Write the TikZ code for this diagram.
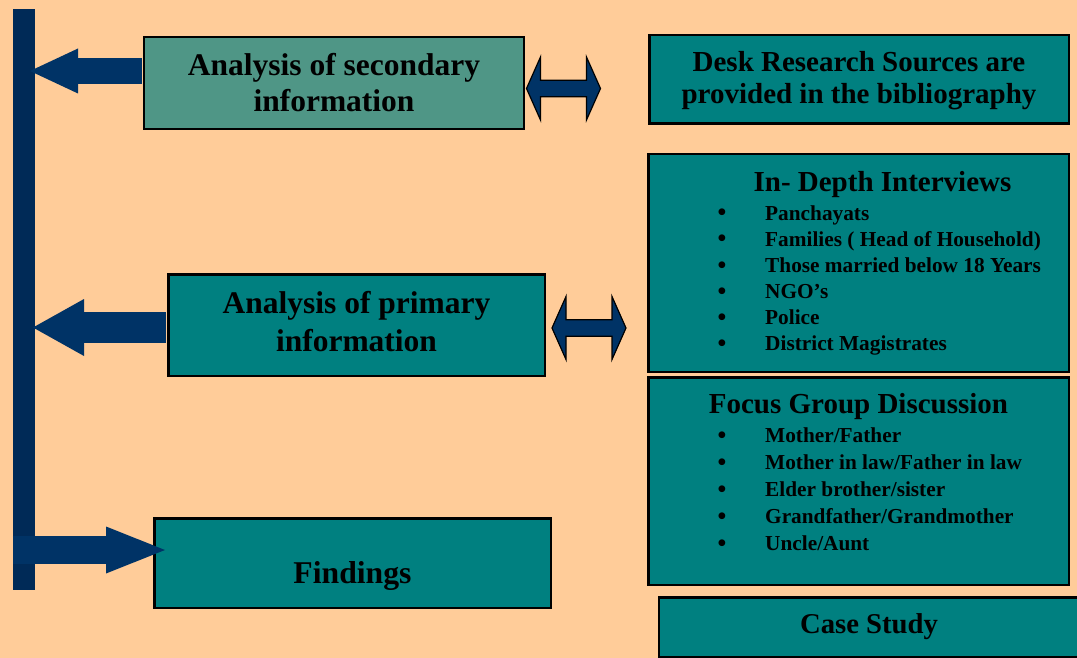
\documentclass[tikz,border=0pt]{standalone}
\usepackage{fontspec}
\setmainfont{Liberation Serif}
\usepackage{tikz}
\usetikzlibrary{arrows.meta}

\definecolor{peach}{HTML}{FFCC99}
\definecolor{tealbox}{HTML}{008080}
\definecolor{seabox}{HTML}{4F9686}
\definecolor{navy}{HTML}{003366}
\definecolor{barblue}{HTML}{002A57}

\def\headf{\fontsize{31.5}{36}\selectfont\bfseries}
\def\midf{\fontsize{29}{32}\selectfont\bfseries}
\def\itemf{\fontsize{21.3}{26}\selectfont\bfseries}

\tikzset{
  box/.style={draw=black, line width=2.5pt, fill=tealbox, inner sep=0pt, align=center},
  blockarrow/.style n args={3}{draw=navy, line width=#1pt, shorten <=-1.25pt,
    -{Triangle[length=#3pt, width=#2pt, line width=0pt]}},
  dblarrow/.style={draw=black, line width=1.2pt, fill=navy, line join=miter},
  itemtxt/.style={anchor=base west, inner sep=0pt, font=\itemf},
  dot/.style={anchor=base, inner sep=0pt, font=\fontsize{25}{26}\selectfont\bfseries},
}

\begin{document}
\begin{tikzpicture}[x=1pt, y=-1pt]
\useasboundingbox (0,0) rectangle (1077,658);
\fill[peach] (0,0) rectangle (1077,658);

% left bar
\node[fill=barblue, inner sep=0pt, minimum width=22pt, minimum height=581pt] (bar) at (24,299.5) {};

% tips on the bar
\coordinate (tip1) at (30,71);
\coordinate (tip2) at (33,327.5);
\coordinate (tip3) at (165,550);

% boxes on the left
\node[box, fill=seabox, minimum width=380pt, minimum height=92pt, font=\headf] (sec) at (334,83)
  {Analysis of secondary\\information};
\node[box, minimum width=376.5pt, minimum height=101.5pt, text depth=8pt,
  font=\fontsize{31.5}{38}\selectfont\bfseries] (prim) at (356.5,325)
  {Analysis of primary\\information};
\node[box, minimum width=396.5pt, minimum height=89.5pt, text height=50pt, text depth=10pt,
  font=\fontsize{31.7}{36}\selectfont\bfseries] (find) at (352.5,563) {Findings};

\draw[blockarrow={26}{45}{48}, shorten <=1.25pt] (sec.west |- tip1) -- (tip1);
\draw[blockarrow={31}{57}{51}, shorten <=1.25pt] (prim.west |- tip2) -- (tip2);
\draw[blockarrow={28}{47}{59}, shorten <=0pt] (bar.west |- tip3) -- (tip3);

% boxes on the right
\node[box, minimum width=419.5pt, minimum height=88.5pt, text depth=4pt, font=\midf] (desk) at (859,79.5)
  {Desk Research Sources are\\provided in the bibliography};
\node[box, minimum width=420.5pt, minimum height=217.5pt] (idi) at (858.5,263) {};
\node[box, minimum width=420.5pt, minimum height=207.5pt] (fgd) at (858.5,481) {};
\node[box, minimum width=420pt, minimum height=59.5pt, font=\fontsize{28.7}{32}\selectfont\bfseries] (case) at (869,627)
  {Case Study};

\node[anchor=base, inner sep=0pt, font=\midf] (idit) at (882.5,192) {In- Depth Interviews};
\foreach \txt [count=\i] in {Panchayats, Families ( Head of Household), Those married below 18 Years,
  NGO’s, Police, District Magistrates}{
  \node[dot] (idib\i) at (722,195+26*\i) {\textbullet};
  \node[itemtxt] (idi\i) at (765,194+26*\i) {\txt};
}

\node[anchor=base, inner sep=0pt, font=\midf] (fgdt) at (858.5,413) {Focus Group Discussion};
\foreach \txt [count=\i] in {Mother/Father, Mother in law/Father in law, Elder brother/sister,
  Grandfather/Grandmother, Uncle/Aunt}{
  \node[dot] (fgdb\i) at (722,416+27*\i) {\textbullet};
  \node[itemtxt] (fgd\i) at (765,415+27*\i) {\txt};
}

% double arrows between the columns
\coordinate (dbl1) at (563.5,88.5);
\coordinate (dbl2) at (589,328);
\foreach \c in {dbl1,dbl2}{
  \draw[dblarrow, shift={(\c)}] (-37,0) -- (-23,-31.5) -- (-23,-8.3) -- (23,-8.3) -- (23,-31.5)
    -- (37,0) -- (23,31.5) -- (23,8.3) -- (-23,8.3) -- (-23,31.5) -- cycle;
}
\end{tikzpicture}
\end{document}
